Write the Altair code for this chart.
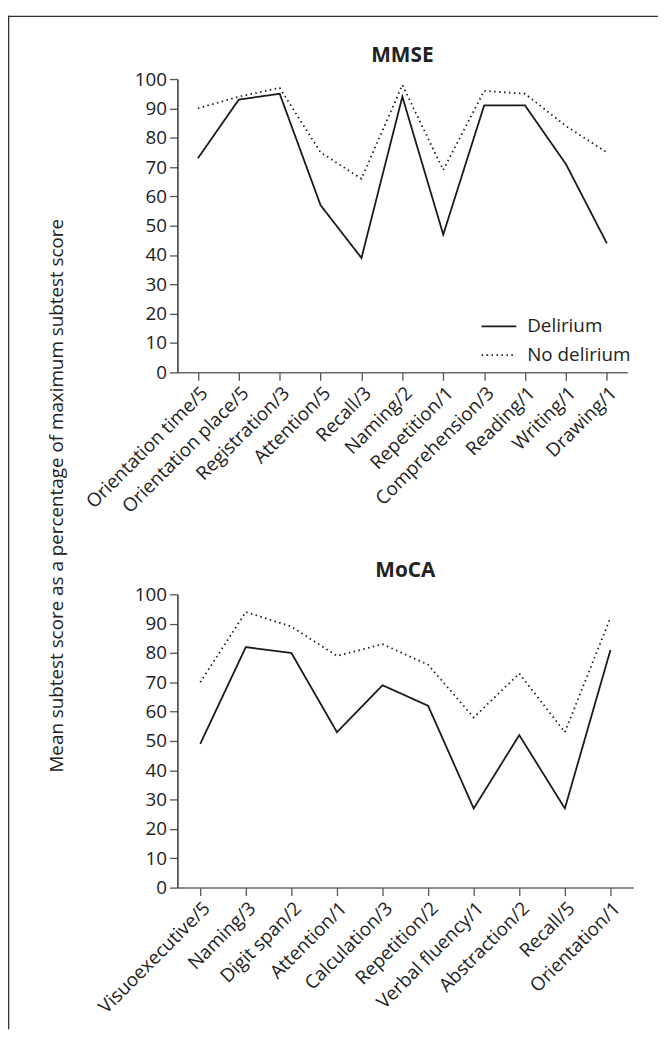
import altair as alt
import pandas as pd

# ---- data ----
mmse_items = ["Orientation time/5", "Orientation place/5", "Registration/3", "Attention/5",
              "Recall/3", "Naming/2", "Repetition/1", "Comprehension/3", "Reading/1",
              "Writing/1", "Drawing/1"]
mmse_delirium = [73, 93, 95, 57, 39, 94, 47, 91, 91, 71, 44]
mmse_no_delirium = [90, 94, 97, 75, 66, 98, 69, 96, 95, 84, 75]

moca_items = ["Visuoexecutive/5", "Naming/3", "Digit span/2", "Attention/1", "Calculation/3",
              "Repetition/2", "Verbal fluency/1", "Abstraction/2", "Recall/5", "Orientation/1"]
moca_delirium = [49, 82, 80, 53, 69, 62, 27, 52, 27, 81]
moca_no_delirium = [70, 94, 89, 79, 83, 76, 58, 73, 53, 92]

groups = ["Delirium", "No delirium"]
y_ticks = list(range(0, 101, 10))
y_title = "Mean subtest score as a percentage of maximum subtest score"

FONT = "Open Sans"
INK = "#1a1a1a"
FS = 19
GAP = 224        # flush spacing between the two plot areas
FRAME_GAP = 64   # frame top line sits this far above the first plot area


def long_df(items, a, b):
    rows = []
    for it, v in zip(items, a):
        rows.append({"item": it, "value": v, "group": groups[0]})
    for it, v in zip(items, b):
        rows.append({"item": it, "value": v, "group": groups[1]})
    return pd.DataFrame(rows)


dash_scale = alt.Scale(domain=groups, range=[[1, 0], [1.5, 3.5]])


def panel(df, items, title, width, legend, ytitle):
    yaxis_kw = dict(values=y_ticks, grid=False, domainColor="#333", domainWidth=1.5,
                    tickColor="#555", tickSize=8, tickWidth=1.3, labelFontSize=FS,
                    labelColor="#222", labelFont=FONT, labelPadding=3)
    if ytitle:
        yaxis_kw.update(title=y_title, titleFont=FONT, titleFontSize=FS, titleFontWeight="normal",
                        titleColor="#222", titleAngle=270, titleAlign="center",
                        titleBaseline="middle", titleX=-122, titleY=420)
    else:
        yaxis_kw.update(title=None)
    return alt.Chart(df).mark_line(color=INK, strokeWidth=1.8, strokeCap="butt").encode(
        x=alt.X("item:N", sort=items, scale=alt.Scale(padding=0.5),
                axis=alt.Axis(title=None, labelAngle=-45, grid=False, domainColor="#666",
                              domainWidth=1.5, tickColor="#555", tickSize=8, tickWidth=1.3,
                              labelFontSize=FS, labelColor="#222", labelFont=FONT,
                              labelPadding=3)),
        y=alt.Y("value:Q", scale=alt.Scale(domain=[0, 100]), axis=alt.Axis(**yaxis_kw)),
        strokeDash=alt.StrokeDash(
            "group:N", scale=dash_scale,
            legend=alt.Legend(title=None, orient="none", legendX=306, legendY=231,
                              symbolType="stroke", symbolSize=1225, symbolStrokeWidth=1.8,
                              symbolStrokeColor=INK, labelFontSize=FS, labelFont=FONT,
                              labelColor="#222", labelOffset=10, rowPadding=-16)
            if legend else None),
    ).properties(
        width=width, height=296,
        title=alt.TitleParams(title, font=FONT, fontSize=21, fontWeight="bold",
                              color="#222", offset=4, anchor="middle", frame="group"))


top = panel(long_df(mmse_items, mmse_delirium, mmse_no_delirium), mmse_items,
            "MMSE", 454, True, True)
bottom = panel(long_df(moca_items, moca_delirium, moca_no_delirium), moca_items,
               "MoCA", 460, False, False)
panels = alt.vconcat(top, bottom, spacing=GAP, bounds="flush").resolve_legend(
    strokeDash="independent")

# figure frame (left and top border of the figure box), drawn as thin rects
frame_df = pd.DataFrame({"f": [0]})
frame_left = alt.Chart(frame_df).mark_rect(color="#333").encode(
    x=alt.value(-171), x2=alt.value(-169.7), y=alt.value(0), y2=alt.value(1023))
frame_top = alt.Chart(frame_df).mark_rect(color="#333").encode(
    x=alt.value(-171), x2=alt.value(485), y=alt.value(0), y2=alt.value(1.3))
frame = alt.layer(frame_left, frame_top).properties(width=454, height=1)

chart = alt.vconcat(frame, panels, spacing=FRAME_GAP - 1, bounds="flush").properties(
    padding={"left": 0, "top": 3, "right": 0, "bottom": 0}
).configure(
    font=FONT,
    view=alt.ViewConfig(strokeWidth=0, stroke="transparent"),
)

chart.save("out.html", embed_options={"renderer": "svg", "actions": False})
